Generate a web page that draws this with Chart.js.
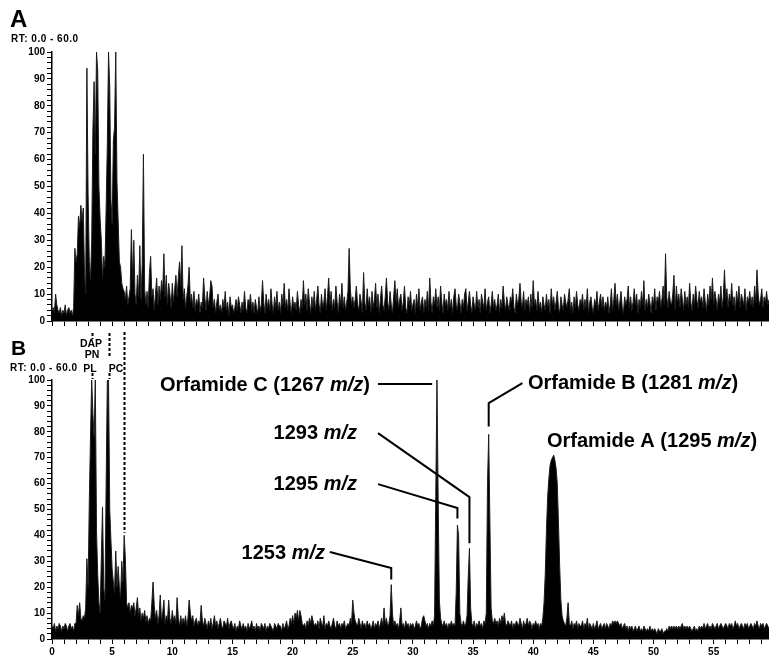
<!DOCTYPE html>
<html>
<head>
<meta charset="utf-8">
<script src="https://cdn.jsdelivr.net/npm/chart.js@4.4.1/dist/chart.umd.min.js"></script>
<style>
html, body { margin: 0; padding: 0; background: #fff; overflow: hidden; }
body { width: 769px; height: 656px; position: relative; font-family: "Liberation Sans", Arial, sans-serif; }
canvas { position: absolute; left: 0; }
#chartA { top: 0; }
#chartB { top: 326px; }
.tag { position: absolute; font-weight: bold; line-height: 1; color: #000; white-space: nowrap; }
.rt { font-size: 10px; letter-spacing: 0.5px; }
</style>
</head>
<body>
<canvas id="chartA" width="769" height="330"></canvas>
<canvas id="chartB" width="769" height="330"></canvas>
<div class="tag" style="left:10px;top:7px;font-size:24px;">A</div>
<div class="tag rt" style="left:11px;top:34px;">RT: 0.0 - 60.0</div>
<div class="tag" style="left:11px;top:337px;font-size:21px;">B</div>
<div class="tag rt" style="left:10px;top:363px;">RT: 0.0 - 60.0</div>
<script>
// relative abundance, one row per minute, 0.1 min apart
const intensityA = [
    4, 5, 3, 10, 6, 4, 3, 5, 2, 4,
    3, 6, 2, 4, 5, 3, 4, 2, 5, 27,
    22, 25, 39, 35, 43, 37, 42, 18, 10, 94,
    47, 22, 15, 30, 71, 89, 62, 100, 93, 50,
    38, 30, 16, 24, 20, 42, 66, 100, 87, 45,
    36, 67, 72, 100, 52, 37, 22, 20, 14, 12,
    11, 8, 13, 6, 9, 12, 34, 15, 30, 10,
    6, 17, 9, 28, 8, 21, 62, 12, 6, 11,
    5, 18, 24, 9, 12, 4, 10, 16, 6, 13,
    8, 15, 11, 25, 9, 17, 6, 14, 10, 5,
    14, 7, 12, 17, 9, 16, 22, 13, 28, 8,
    12, 5, 9, 13, 20, 7, 10, 5, 11, 4,
    8, 6, 10, 3, 7, 5, 16, 9, 4, 11,
    6, 9, 15, 13, 5, 8, 3, 7, 10, 4,
    6, 3, 8, 5, 11, 4, 7, 2, 9, 5,
    6, 3, 5, 8, 4, 9, 6, 3, 7, 4,
    11, 5, 3, 8, 6, 10, 4, 7, 3, 8,
    5, 3, 9, 4, 6, 15, 7, 3, 10, 5,
    8, 4, 12, 6, 3, 9, 5, 11, 4, 7,
    3, 10, 6, 14, 5, 8, 4, 12, 6, 3,
    9, 5, 7, 4, 11, 6, 3, 8, 5, 15,
    6, 10, 4, 12, 7, 3, 9, 5, 11, 4,
    8, 13, 6, 3, 10, 5, 7, 12, 4, 9,
    16, 6, 11, 4, 8, 5, 13, 7, 3, 10,
    6, 14, 5, 9, 4, 7, 11, 27, 12, 6,
    9, 5, 8, 13, 6, 4, 10, 7, 3, 18,
    7, 4, 12, 6, 9, 3, 11, 5, 8, 14,
    5, 10, 3, 8, 13, 6, 4, 9, 16, 7,
    4, 11, 6, 3, 9, 15, 7, 12, 5, 8,
    10, 4, 7, 13, 5, 3, 9, 6, 11, 4,
    6, 8, 3, 10, 5, 12, 4, 7, 9, 3,
    8, 5, 11, 4, 16, 7, 3, 9, 6, 12,
    5, 9, 4, 13, 7, 3, 10, 6, 8, 4,
    11, 5, 8, 3, 9, 12, 6, 4, 10, 7,
    3, 8, 5, 10, 12, 4, 7, 11, 6, 3,
    9, 6, 4, 11, 5, 8, 3, 10, 7, 5,
    12, 4, 7, 9, 3, 6, 11, 5, 8, 4,
    6, 10, 3, 8, 5, 13, 7, 4, 9, 6,
    4, 9, 7, 12, 5, 3, 10, 6, 8, 14,
    7, 5, 11, 4, 8, 6, 9, 3, 10, 5,
    15, 6, 8, 4, 11, 5, 7, 3, 9, 6,
    4, 10, 5, 8, 3, 12, 6, 9, 4, 7,
    11, 5, 3, 9, 6, 4, 10, 7, 5, 8,
    12, 4, 7, 3, 9, 5, 11, 6, 4, 8,
    6, 10, 4, 8, 5, 12, 3, 7, 9, 5,
    3, 8, 6, 11, 4, 7, 10, 5, 9, 4,
    7, 5, 9, 3, 6, 12, 4, 8, 14, 6,
    10, 4, 7, 11, 5, 3, 9, 6, 8, 13,
    5, 9, 4, 7, 12, 6, 10, 3, 8, 5,
    11, 6, 15, 4, 8, 5, 10, 7, 3, 9,
    6, 12, 4, 9, 7, 11, 5, 8, 13, 6,
    25, 9, 5, 11, 7, 6, 10, 17, 4, 13,
    7, 10, 5, 12, 8, 4, 11, 6, 9, 5,
    14, 7, 4, 10, 6, 13, 8, 5, 11, 7,
    9, 5, 12, 7, 4, 10, 6, 13, 8, 16,
    6, 11, 8, 4, 10, 7, 13, 5, 9, 19,
    8, 12, 5, 10, 7, 14, 6, 9, 4, 11,
    7, 13, 5, 10, 8, 6, 12, 4, 9, 7,
    11, 6, 9, 5, 13, 7, 19, 10, 6, 8,
    12, 5, 9, 7, 11, 6, 8, 10, 5, 9
];

const intensityB = [
    5, 4, 6, 3, 5, 4, 6, 5, 3, 5,
    4, 6, 5, 3, 5, 6, 4, 5, 3, 6,
    6, 13, 9, 14, 8, 7, 9, 8, 12, 31,
    20, 53, 78, 100, 87, 78, 100, 42, 25, 14,
    10, 31, 51, 20, 15, 60, 100, 100, 50, 38,
    27, 22, 18, 34, 20, 28, 20, 16, 30, 22,
    40, 31, 14, 12, 14, 10, 13, 12, 14, 9,
    12, 16, 9, 12, 7, 10, 8, 11, 7, 9,
    6, 8, 7, 14, 22, 13, 8, 11, 6, 9,
    17, 7, 10, 15, 6, 9, 7, 15, 8, 6,
    11, 7, 9, 6, 16, 8, 5, 9, 6, 8,
    6, 9, 5, 8, 15, 10, 7, 9, 5, 7,
    8, 5, 7, 6, 13, 7, 5, 8, 6, 4,
    7, 5, 8, 4, 6, 9, 5, 7, 4, 6,
    8, 5, 4, 7, 6, 5, 8, 4, 6, 7,
    5, 4, 6, 3, 5, 4, 7, 5, 4, 6,
    4, 5, 3, 6, 4, 5, 7, 4, 5, 3,
    6, 4, 5, 3, 6, 5, 4, 6, 3, 5,
    4, 6, 5, 4, 3, 6, 5, 4, 6, 5,
    5, 3, 6, 4, 5, 7, 4, 5, 8, 6,
    9, 6, 10, 8, 11, 7, 11, 9, 6, 5,
    6, 4, 7, 5, 8, 6, 9, 7, 5, 6,
    5, 7, 4, 8, 6, 5, 9, 4, 6, 5,
    7, 5, 4, 6, 8, 5, 4, 7, 5, 6,
    4, 6, 5, 7, 4, 5, 6, 5, 8, 6,
    15, 10, 7, 6, 5, 8, 6, 4, 7, 5,
    6, 4, 7, 5, 6, 4, 5, 7, 4, 6,
    5, 7, 4, 6, 8, 5, 12, 6, 8, 5,
    6, 9, 21, 10, 5, 7, 5, 6, 4, 7,
    12, 5, 6, 4, 7, 5, 6, 4, 6, 5,
    6, 4, 5, 7, 5, 6, 4, 5, 8, 9,
    7, 5, 6, 4, 6, 5, 7, 5, 9, 55,
    100, 54, 15, 8, 6, 5, 7, 5, 6, 4,
    6, 5, 7, 5, 6, 5, 18, 44, 40, 10,
    6, 5, 7, 5, 6, 9, 24, 35, 12, 6,
    5, 7, 4, 6, 5, 7, 5, 6, 4, 7,
    6, 10, 60, 79, 45, 12, 7, 6, 8, 6,
    7, 5, 8, 6, 9, 7, 10, 6, 5, 7,
    6, 5, 7, 4, 6, 5, 7, 6, 5, 8,
    6, 4, 7, 5, 6, 8, 5, 7, 6, 4,
    6, 5, 7, 5, 6, 4, 6, 5, 8, 14,
    25, 42, 55, 62, 67, 69, 70, 71, 69, 66,
    60, 45, 28, 15, 9, 7, 6, 5, 8, 14,
    6, 5, 7, 4, 6, 5, 7, 4, 6, 5,
    5, 7, 4, 6, 5, 8, 4, 6, 5, 4,
    6, 4, 5, 7, 4, 5, 6, 4, 5, 6,
    4, 6, 5, 4, 6, 5, 7, 6, 7, 6,
    7, 6, 5, 6, 4, 5, 6, 4, 5, 3,
    5, 4, 5, 3, 4, 5, 3, 4, 5, 3,
    4, 3, 5, 4, 3, 4, 3, 5, 3, 4,
    3, 4, 3, 2, 4, 3, 3, 4, 2, 3,
    3, 4, 3, 5, 4, 5, 4, 5, 4, 5,
    4, 5, 4, 5, 6, 4, 5, 4, 5, 4,
    5, 4, 3, 4, 5, 3, 4, 3, 5, 4,
    5, 4, 6, 4, 5, 6, 4, 5, 4, 6,
    5, 4, 5, 6, 4, 5, 6, 5, 4, 5,
    6, 5, 4, 6, 5, 6, 4, 5, 7, 5,
    6, 4, 5, 6, 5, 4, 6, 5, 6, 4,
    5, 6, 5, 4, 6, 5, 7, 5, 4, 6,
    5, 6, 4, 5, 6, 5, 4, 6, 5, 5
];

const STEP = 0.1;
const times = intensityA.map((_, i) => Math.round(i * STEP * 10) / 10);
const xTicks = Array.from({ length: 60 }, (_, i) => i);
const yTicks = Array.from({ length: 51 }, (_, i) => i * 2);
const X_MAX = 59.6;

// peak labels (B), [text, italic]
const peakLabels = [
    { parts: [['Orfamide C (1267 '], ['m/z', 1], [')']], x: 370, y: 391, align: 'right' },
    { parts: [['1293 '], ['m/z', 1]], x: 357, y: 439, align: 'right' },
    { parts: [['1295 '], ['m/z', 1]], x: 357, y: 490, align: 'right' },
    { parts: [['1253 '], ['m/z', 1]], x: 325, y: 559, align: 'right' },
    { parts: [['Orfamide B (1281 '], ['m/z', 1], [')']], x: 528, y: 389, align: 'left' },
    { parts: [['Orfamide A (1295 '], ['m/z', 1], [')']], x: 547, y: 447, align: 'left' }
];
// leader lines in (minutes, abundance)
const leaders = [
    [[27.1, 98.5], [31.6, 98.5]],
    [[27.1, 79.5], [34.7, 54.8], [34.7, 37]],
    [[27.1, 59.8], [33.7, 50.6], [33.7, 46.5]],
    [[23.1, 33.6], [28.2, 27.4], [28.2, 23]],
    [[39.1, 98.8], [36.3, 91.1], [36.3, 82]]
];
const lipidTags = [['DAP', 91, 347], ['PN', 92, 358], ['PL', 90, 372], ['PC', 116, 372]];
const lipidMarks = [
    { t: 3.3, segs: [[333, 339], [373, 379]] },
    { t: 4.7, segs: [[333, 358], [373, 379]] },
    { t: 6.0, segs: [[332, null]], to: 41 }
];

const B_TOP = 326;
const FONT = '"Liberation Sans", Arial, sans-serif';

function drawLabel(ctx, parts, x, y, align, size) {
    const fonts = parts.map(p => (p[1] ? 'italic ' : '') + 'bold ' + size + 'px ' + FONT);
    const widths = parts.map((p, i) => { ctx.font = fonts[i]; return ctx.measureText(p[0]).width; });
    const total = widths.reduce((a, b) => a + b, 0);
    let cx = align === 'right' ? x - total : align === 'center' ? x - total / 2 : x;
    ctx.textAlign = 'left';
    ctx.textBaseline = 'alphabetic';
    parts.forEach((p, i) => { ctx.font = fonts[i]; ctx.fillText(p[0], cx, y); cx += widths[i]; });
}

const annotatePlugin = {
    id: 'annotate',
    afterDraw(chart) {
        const { ctx, scales: { x, y } } = chart;
        ctx.save();
        ctx.fillStyle = '#000';
        ctx.strokeStyle = '#000';

        ctx.lineWidth = 2;
        leaders.forEach(pts => {
            ctx.beginPath();
            pts.forEach(([t, v], i) => {
                const px = x.getPixelForValue(t), py = y.getPixelForValue(v);
                i ? ctx.lineTo(px, py) : ctx.moveTo(px, py);
            });
            ctx.stroke();
        });

        peakLabels.forEach(l => drawLabel(ctx, l.parts, l.x, l.y - B_TOP, l.align, 20));
        lipidTags.forEach(([txt, cx, by]) => drawLabel(ctx, [[txt]], cx, by - B_TOP, 'center', 10.5));

        ctx.setLineDash([3, 2]);
        ctx.lineWidth = 2;
        lipidMarks.forEach(m => {
            const px = Math.round(x.getPixelForValue(m.t)) + 0.5;
            m.segs.forEach(([a, b]) => {
                const end = b === null ? y.getPixelForValue(m.to) : b - B_TOP;
                ctx.beginPath();
                ctx.moveTo(px, a - B_TOP);
                ctx.lineTo(px, end);
                ctx.stroke();
            });
        });
        ctx.restore();
    }
};

function makeChart(id, values, showLabels, padTop, xHeight, extra) {
    return new Chart(document.getElementById(id), {
        type: 'line',
        data: {
            datasets: [{
                data: values.map((v, i) => ({ x: times[i], y: v })),
                borderColor: '#1c1c1c',
                backgroundColor: '#000',
                borderWidth: 1,
                pointRadius: 0,
                fill: 'origin',
                tension: 0
            }]
        },
        options: {
            responsive: false,
            animation: false,
            events: [],
            parsing: false,
            normalized: true,
            layout: { padding: { top: padTop, left: 0, right: 0, bottom: 0 } },
            plugins: { legend: { display: false }, tooltip: { enabled: false } },
            scales: {
                x: {
                    type: 'linear',
                    min: 0,
                    max: X_MAX,
                    afterBuildTicks: s => { s.ticks = xTicks.map(v => ({ value: v })); },
                    afterFit: s => { s.height = xHeight; },
                    grid: { drawOnChartArea: false, tickLength: 5, color: '#000', lineWidth: 1 },
                    border: { color: '#000', width: 1.5 },
                    ticks: {
                        autoSkip: false, maxRotation: 0, padding: 2, color: '#000',
                        font: { family: FONT, size: 10, weight: 'bold' },
                        callback: v => (showLabels && v % 5 === 0 ? v : '')
                    }
                },
                y: {
                    min: 0,
                    max: 100,
                    afterBuildTicks: s => { s.ticks = yTicks.map(v => ({ value: v })); },
                    afterFit: s => { s.width = 52; },
                    grid: { drawOnChartArea: false, tickLength: 5, color: '#000', lineWidth: 1 },
                    border: { color: '#000', width: 1.5 },
                    ticks: {
                        autoSkip: false, padding: 2, color: '#000',
                        font: { family: FONT, size: 10, weight: 'bold' },
                        callback: v => (v % 10 === 0 ? v : '')
                    }
                }
            }
        },
        plugins: extra
    });
}

const chartA = makeChart('chartA', intensityA, false, 52, 9, []);
const chartB = makeChart('chartB', intensityB, true, 54, 17, [annotatePlugin]);
</script>
</body>
</html>
